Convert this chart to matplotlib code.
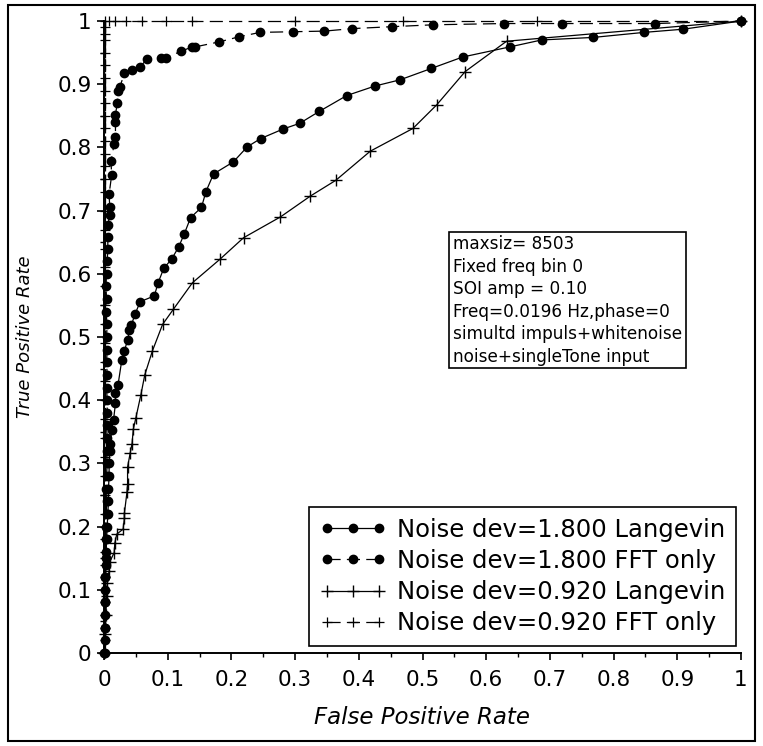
import matplotlib
matplotlib.use("Agg")
import matplotlib.pyplot as plt
from matplotlib.patches import Rectangle
from matplotlib.ticker import MultipleLocator, FixedLocator, FixedFormatter

# ---- data ----
lang18_x = [0, 0.001, 0.001, 0.002, 0.003, 0.004, 0.005, 0.006, 0.007, 0.007, 0.008, 0.008,
            0.009, 0.010, 0.012, 0.015, 0.018, 0.018, 0.022, 0.028, 0.032, 0.037, 0.040, 0.043,
            0.049, 0.057, 0.079, 0.085, 0.094, 0.106, 0.117, 0.126, 0.136, 0.153, 0.160, 0.172,
            0.203, 0.225, 0.246, 0.281, 0.307, 0.338, 0.381, 0.425, 0.465, 0.514, 0.563, 0.637,
            0.687, 0.768, 0.848, 0.909, 1.0]
lang18_y = [0, 0.04, 0.08, 0.12, 0.15, 0.18, 0.20, 0.22, 0.24, 0.26, 0.28, 0.30,
            0.32, 0.33, 0.353, 0.369, 0.395, 0.411, 0.424, 0.464, 0.478, 0.495, 0.511, 0.519,
            0.537, 0.556, 0.565, 0.586, 0.609, 0.623, 0.642, 0.663, 0.689, 0.705, 0.730, 0.758,
            0.777, 0.801, 0.814, 0.829, 0.838, 0.857, 0.882, 0.897, 0.907, 0.925, 0.943, 0.959,
            0.970, 0.974, 0.982, 0.987, 1.0]

fft18_x = [0.001, 0.001, 0.001, 0.002, 0.002, 0.002, 0.002, 0.003, 0.003, 0.003, 0.003,
           0.004, 0.004, 0.003, 0.004, 0.005, 0.004, 0.005, 0.004, 0.005, 0.005, 0.004,
           0.005, 0.004, 0.005, 0.004, 0.005, 0.003, 0.004, 0.003, 0.004, 0.005,
           0.006, 0.006, 0.006, 0.009, 0.009, 0.008, 0.012, 0.011, 0.016, 0.018, 0.018,
           0.018, 0.021, 0.022, 0.025, 0.032, 0.044, 0.057, 0.068, 0.089, 0.097, 0.121,
           0.138, 0.143, 0.181, 0.212, 0.245, 0.296, 0.346, 0.390, 0.452, 0.517, 0.628,
           0.719, 0.865, 1.0]
fft18_y = [0, 0.02, 0.04, 0.06, 0.08, 0.10, 0.12, 0.14, 0.16, 0.18, 0.20,
           0.22, 0.24, 0.26, 0.28, 0.30, 0.32, 0.34, 0.36, 0.38, 0.40, 0.42,
           0.44, 0.46, 0.48, 0.50, 0.52, 0.54, 0.56, 0.58, 0.60, 0.62,
           0.640, 0.659, 0.677, 0.693, 0.706, 0.726, 0.756, 0.778, 0.806, 0.816, 0.840,
           0.852, 0.871, 0.889, 0.896, 0.917, 0.922, 0.928, 0.940, 0.942, 0.942, 0.952,
           0.959, 0.959, 0.967, 0.975, 0.982, 0.983, 0.984, 0.988, 0.991, 0.994, 0.996,
           0.996, 0.996, 1.0]

lang092_x = [0, 0.002, 0.003, 0.004, 0.005, 0.008, 0.009, 0.016, 0.017, 0.020, 0.030,
             0.032, 0.032, 0.036, 0.037, 0.037, 0.041, 0.044, 0.046, 0.050, 0.058, 0.064,
             0.076, 0.092, 0.109, 0.139, 0.182, 0.219, 0.277, 0.324, 0.364, 0.418, 0.485,
             0.522, 0.567, 0.632, 1.0]
lang092_y = [0, 0.03, 0.06, 0.09, 0.11, 0.130, 0.144, 0.159, 0.174, 0.188, 0.196,
             0.213, 0.221, 0.254, 0.267, 0.294, 0.316, 0.331, 0.354, 0.372, 0.409, 0.440,
             0.478, 0.520, 0.544, 0.586, 0.623, 0.657, 0.690, 0.723, 0.748, 0.794, 0.830,
             0.867, 0.920, 0.968, 1.0]

fft092_x = [0.001, 0.001, 0.001, 0.001, 0.001, 0.001, 0.001, 0.001, 0.001, 0.001, 0.001,
            0.001, 0.001, 0.001, 0.001, 0.001, 0.001, 0.001, 0.001, 0.001, 0.001, 0.001,
            0.001, 0.001, 0.001, 0.001, 0.001, 0.001, 0.001, 0.001, 0.001, 0.001, 0.001,
            0.001, 0.001, 0.001, 0.001, 0.001, 0.001, 0.001, 0.001, 0.001, 0.001, 0.001,
            0.008, 0.017, 0.035, 0.059, 0.098, 0.138, 0.300, 0.470, 0.680, 1.0]
fft092_y = [0, 0.02, 0.04, 0.06, 0.08, 0.10, 0.12, 0.14, 0.16, 0.18, 0.20,
            0.22, 0.25, 0.28, 0.31, 0.34, 0.37, 0.40, 0.43, 0.46, 0.49, 0.52,
            0.55, 0.58, 0.61, 0.64, 0.67, 0.70, 0.73, 0.75, 0.77, 0.79, 0.81,
            0.83, 0.85, 0.87, 0.89, 0.91, 0.93, 0.95, 0.97, 0.98, 0.99, 1.0,
            1.0, 1.0, 1.0, 1.0, 1.0, 1.0, 1.0, 1.0, 1.0, 1.0]

series_labels = ["Noise dev=1.800 Langevin", "Noise dev=1.800 FFT only",
                 "Noise dev=0.920 Langevin", "Noise dev=0.920 FFT only"]

tick_values = [0, 0.1, 0.2, 0.3, 0.4, 0.5, 0.6, 0.7, 0.8, 0.9, 1.0]
tick_labels = ["0", "0.1", "0.2", "0.3", "0.4", "0.5", "0.6", "0.7", "0.8", "0.9", "1"]

info_lines = ["maxsiz= 8503", "Fixed freq bin 0", "SOI amp = 0.10",
              "Freq=0.0196 Hz,phase=0", "simultd impuls+whitenoise",
              "noise+singleTone input"]

# ---- figure ----
plt.rcParams['font.family'] = ['DejaVu Sans']
W, H = 763, 746
fig = plt.figure(figsize=(W / 100, H / 100), dpi=100)
ax = fig.add_axes([104 / W, 1 - 653 / H, (741 - 104) / W, (653 - 21) / H])

dash = (10.5, 5)
common = dict(color='black', lw=0.9, clip_on=False)
ax.plot(lang18_x, lang18_y, marker='o', ms=6, ls='-', label=series_labels[0], **common)
ax.plot(fft18_x, fft18_y, marker='o', ms=6, ls=(0, dash), label=series_labels[1], **common)
ax.plot(lang092_x, lang092_y, marker='+', ms=8, mew=1, ls='-', label=series_labels[2], **common)
ax.plot(fft092_x, fft092_y, marker='+', ms=7, mew=0.9, ls=(0, dash), label=series_labels[3], **common)

ax.set_xlim(0, 1)
ax.set_ylim(0, 1)
for s in ['top', 'right']:
    ax.spines[s].set_visible(False)
for s in ['left', 'bottom']:
    ax.spines[s].set_linewidth(1.4)

for axis in (ax.xaxis, ax.yaxis):
    axis.set_major_locator(FixedLocator(tick_values))
    axis.set_major_formatter(FixedFormatter(tick_labels))
    axis.set_minor_locator(MultipleLocator(0.05))
ax.tick_params(which='major', direction='out', length=5, width=1.2, labelsize=15.5)
ax.tick_params(which='minor', direction='out', length=3, width=1.0)
ax.tick_params(axis='x', which='major', pad=7)
ax.tick_params(axis='y', which='major', pad=4)

fig.text(422.5 / W, 1 - 717 / H, "False Positive Rate", fontsize=16.5, style='italic',
         ha='center', va='center')
fig.text(25 / W, 1 - 337 / H, "True Positive Rate", fontsize=13, style='italic',
         rotation=90, ha='center', va='center')

leg = ax.legend(loc='lower right', bbox_to_anchor=(0.9917, 0.0116), borderaxespad=0,
                fontsize=17.5, numpoints=3, handlelength=2.75, handletextpad=0.45,
                labelspacing=0.3, borderpad=0.42, fancybox=False, framealpha=1,
                edgecolor='black')
leg.get_frame().set_linewidth(1.2)

# info box
ax.add_patch(Rectangle((0.5421, 0.4505), 0.9132 - 0.5421, 0.6666 - 0.4505,
                       transform=ax.transAxes, fill=False, ec='black', lw=1.2))
for i, line in enumerate(info_lines):
    ax.text(0.5484, 0.6388 - i * 0.0356, line, transform=ax.transAxes,
            fontsize=12.2, ha='left', va='baseline')

# figure border
fig.patches.append(Rectangle((8 / W, 5 / H), (755 - 8) / W, (741 - 5) / H,
                             transform=fig.transFigure, fill=False, ec='black', lw=1.5))

fig.savefig("out.png", dpi=100)
